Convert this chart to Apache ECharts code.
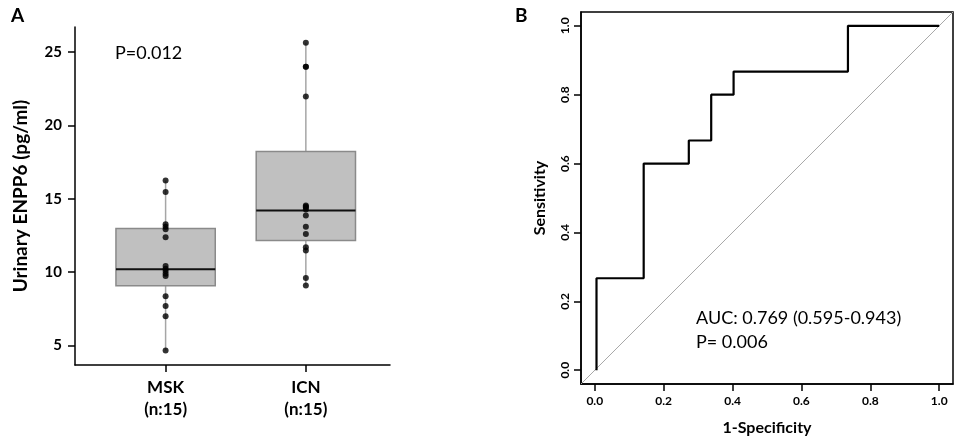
<!DOCTYPE html>
<html>
<head>
<meta charset="utf-8">
<script src="https://cdn.jsdelivr.net/npm/echarts@6/dist/echarts.min.js"></script>
<style>
  html, body { margin: 0; padding: 0; background: #fff; }
  #main { width: 957px; height: 438px; }
</style>
</head>
<body>
<div id="main"></div>
<script>
// panel A: box plot data
const groups = ['MSK', 'ICN'];
const groupN = ['(n:15)', '(n:15)'];
// [min, Q1, median, Q3, max]
const boxStats = [
    [4.67, 9.07, 10.2, 12.97, 16.24],
    [9.1, 12.16, 14.2, 18.22, 25.62]
];
const mskPoints = [16.24, 15.47, 13.27, 13.1, 12.93, 12.38, 10.42, 10.24, 10.08, 9.9, 9.74, 8.36, 7.7, 7.0, 4.67];
const icnPoints = [25.62, 24.0, 24.0, 21.97, 14.54, 14.47, 14.4, 14.27, 13.86, 13.09, 12.6, 11.7, 11.47, 9.6, 9.1];
const yTicksA = [5, 10, 15, 20, 25];

// panel B: ROC curve (step points)
const rocFpr = [0.005, 0.005, 0.142, 0.142, 0.273, 0.273, 0.338, 0.338, 0.403, 0.403, 0.735, 0.735, 1.0];
const rocTpr = [0.0, 0.267, 0.267, 0.6, 0.6, 0.667, 0.667, 0.8, 0.8, 0.867, 0.867, 1.0, 1.0];
const ticksB = [0, 0.2, 0.4, 0.6, 0.8, 1.0];

const FONT = 'Lato';

let myChart = echarts.init(document.getElementById('main'), null, { renderer: 'canvas' });

let pointsA = [];
mskPoints.forEach(v => pointsA.push([1, v]));
icnPoints.forEach(v => pointsA.push([2, v]));

let rocData = rocFpr.map((x, i) => [x, rocTpr[i]]);

let options = {
    animation: false,
    textStyle: { fontFamily: FONT },
    grid: [
        { left: 75, top: 27, width: 315, height: 338, outerBoundsMode: 'none' },
        { left: 581, top: 12, width: 372, height: 372, outerBoundsMode: 'none', show: true, borderColor: '#000', borderWidth: 1.5, backgroundColor: 'transparent' }
    ],
    xAxis: [
        {
            gridIndex: 0, type: 'value', min: 0.354, max: 2.6,
            splitLine: { show: false },
            axisLine: { show: true, onZero: false, lineStyle: { color: '#000', width: 1.5 } },
            axisTick: { show: true, customValues: [1, 2], length: 7, lineStyle: { color: '#000', width: 1.5 } },
            axisLabel: {
                customValues: [1, 2], margin: 12, color: '#000',
                formatter: v => '{g|' + groups[v - 1] + '}\n{n|' + groupN[v - 1] + '}',
                rich: {
                    g: { fontSize: 17, fontWeight: 'bold', fontFamily: FONT, color: '#000', lineHeight: 22 },
                    n: { fontSize: 17, fontWeight: 'bold', fontFamily: FONT, color: '#000', lineHeight: 22 }
                }
            }
        },
        {
            gridIndex: 1, type: 'value', min: -0.04, max: 1.04,
            name: '1-Specificity', nameLocation: 'middle', nameGap: 36,
            nameTextStyle: { fontSize: 16, fontWeight: 'bold', color: '#000', fontFamily: FONT },
            splitLine: { show: false },
            axisLine: { show: true, onZero: false, lineStyle: { color: '#000', width: 1.5 } },
            axisTick: { show: true, customValues: ticksB, length: 7, lineStyle: { color: '#000', width: 1.5 } },
            axisLabel: {
                customValues: ticksB, margin: 11, color: '#000', fontSize: 12, fontWeight: 'bold',
                formatter: v => v.toFixed(1)
            }
        }
    ],
    yAxis: [
        {
            gridIndex: 0, type: 'value', min: 3.68, max: 26.7,
            name: 'Urinary ENPP6 (pg/ml)', nameLocation: 'middle', nameGap: 45,
            nameTextStyle: { fontSize: 19, fontWeight: 'bold', color: '#000', fontFamily: FONT },
            splitLine: { show: false },
            axisLine: { show: true, onZero: false, lineStyle: { color: '#000', width: 1.5 } },
            axisTick: { show: true, customValues: yTicksA, length: 7, lineStyle: { color: '#000', width: 1.5 } },
            axisLabel: { customValues: yTicksA, margin: 13, color: '#000', fontSize: 15, fontWeight: 'bold' }
        },
        {
            gridIndex: 1, type: 'value', min: -0.04, max: 1.04,
            name: 'Sensitivity', nameLocation: 'middle', nameGap: 33,
            nameTextStyle: { fontSize: 16, fontWeight: 'bold', color: '#000', fontFamily: FONT },
            splitLine: { show: false },
            axisLine: { show: true, onZero: false, lineStyle: { color: '#000', width: 1.5 } },
            axisTick: { show: true, customValues: ticksB, length: 7, lineStyle: { color: '#000', width: 1.5 } },
            axisLabel: {
                customValues: ticksB, margin: 10, color: '#000', fontSize: 12, fontWeight: 'bold',
                rotate: 90, formatter: v => v.toFixed(1)
            }
        }
    ],
    series: [
        {
            // boxes drawn from the stats through the axes
            type: 'custom',
            xAxisIndex: 0, yAxisIndex: 0,
            data: boxStats.map((s, i) => [i + 1].concat(s)),
            renderItem: function (params, api) {
                let x = api.value(0);
                let pMin = api.coord([x, api.value(1)]);
                let pQ1 = api.coord([x, api.value(2)]);
                let pMed = api.coord([x, api.value(3)]);
                let pQ3 = api.coord([x, api.value(4)]);
                let pMax = api.coord([x, api.value(5)]);
                let half = api.size([0.354, 0])[0];
                return {
                    type: 'group',
                    children: [
                        { type: 'line', shape: { x1: pMin[0], y1: pMin[1], x2: pMax[0], y2: pMax[1] }, style: { stroke: '#a6a6a6', lineWidth: 1.5 } },
                        { type: 'rect', shape: { x: pQ3[0] - half, y: pQ3[1], width: half * 2, height: pQ1[1] - pQ3[1] }, style: { fill: '#c0c0c0', stroke: '#8a8a8a', lineWidth: 1.5 } },
                        { type: 'line', shape: { x1: pMed[0] - half, y1: pMed[1], x2: pMed[0] + half, y2: pMed[1] }, style: { stroke: '#111', lineWidth: 2 } }
                    ]
                };
            },
            silent: true
        },
        {
            type: 'scatter',
            xAxisIndex: 0, yAxisIndex: 0,
            data: pointsA,
            symbol: 'circle', symbolSize: 6,
            itemStyle: { color: '#000' },
            silent: true
        },
        {
            type: 'line',
            xAxisIndex: 1, yAxisIndex: 1,
            data: [[-0.04, -0.04], [1.04, 1.04]],
            symbol: 'none',
            lineStyle: { color: '#a8a8a8', width: 1 },
            silent: true
        },
        {
            type: 'line',
            xAxisIndex: 1, yAxisIndex: 1,
            data: rocData,
            symbol: 'none',
            lineStyle: { color: '#000', width: 2.2 },
            silent: true
        }
    ],
    graphic: [
        { type: 'text', left: 11, top: 6, style: { text: 'A', font: 'bold 19px ' + FONT, fill: '#000' } },
        { type: 'text', left: 515, top: 6, style: { text: 'B', font: 'bold 19px ' + FONT, fill: '#000' } },
        { type: 'text', left: 115, top: 44, style: { text: 'P=0.012', font: '18px ' + FONT, fill: '#000' } },
        { type: 'text', left: 696, top: 306, style: { text: 'AUC: 0.769 (0.595-0.943)\nP= 0.006', font: '18px ' + FONT, fill: '#000', lineHeight: 24 } }
    ]
};
myChart.setOption(options);
</script>
</body>
</html>
